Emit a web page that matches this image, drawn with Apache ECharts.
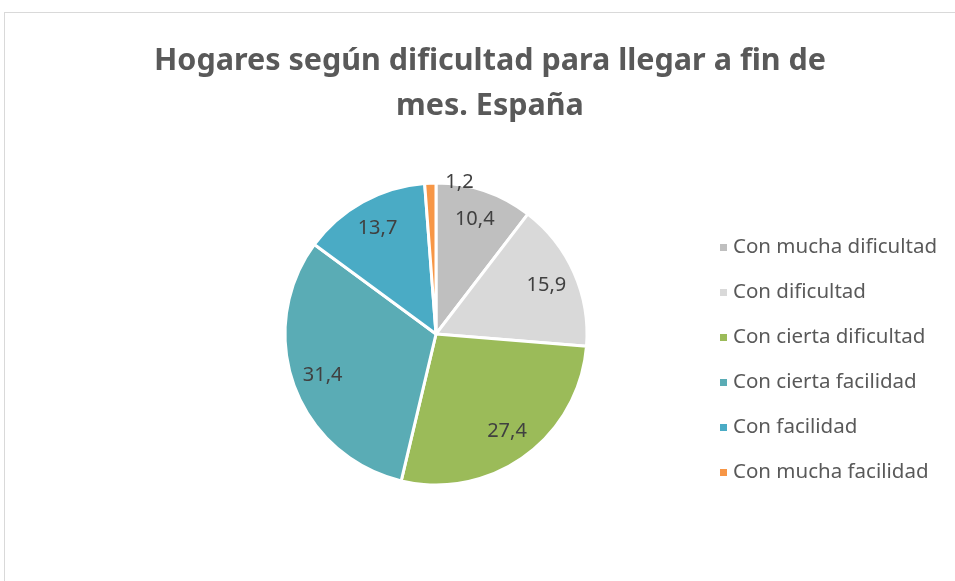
<!DOCTYPE html>
<html><head><meta charset="utf-8">
<script src="https://cdn.jsdelivr.net/npm/echarts@6/dist/echarts.min.js"></script>
<style>
html,body{margin:0;padding:0;background:#fff;overflow:hidden;}
#frame{position:absolute;left:4px;top:12px;width:1000px;height:620px;border:1px solid #d9d9d9;box-sizing:border-box;}
#chart{position:absolute;left:0;top:0;width:955px;height:581px;}
</style></head>
<body>
<div id="frame"></div>
<div id="chart"></div>
<script>
const titleText = 'Hogares según dificultad para llegar a fin de\nmes. España';
const categories = ['Con mucha dificultad','Con dificultad','Con cierta dificultad','Con cierta facilidad','Con facilidad','Con mucha facilidad'];
const values = [10.4, 15.9, 27.4, 31.4, 13.7, 1.2];
const colors = ['#bfbfbf','#d9d9d9','#9bbb59','#5aacb5','#4aabc5','#f79646'];

const R = 151;
const cx = 436, cy = 334;
const fmt = v => String(v).replace('.', ',');

const chart = echarts.init(document.getElementById('chart'), null, {renderer:'canvas'});
chart.setOption({
  animation:false,
  title:{text:titleText,left:485,top:34,textAlign:'center',
    textStyle:{fontFamily:'Noto Sans',fontWeight:'bold',fontSize:30.5,color:'#595959',lineHeight:45}},
  legend:{orient:'vertical',left:713,top:232,itemWidth:9,itemHeight:9,itemGap:24,icon:'rect',
    data:categories,
    textStyle:{fontFamily:'Noto Sans',fontSize:20.5,color:'#595959',lineHeight:20,padding:[0,0,0,0]}},
  series:[
    {type:'pie',name:'main',center:[cx,cy],radius:[0,R],startAngle:90,clockwise:true,
     label:{show:false},labelLine:{show:false},
     itemStyle:{borderColor:'#fff',borderWidth:3},
     emphasis:{disabled:true},
     data:categories.map((c,i)=>({name:c,value:values[i],itemStyle:{color:colors[i]}}))},
    {type:'pie',name:'labels',center:[cx,cy],radius:[0,R*1.56],startAngle:90,clockwise:true,silent:true,
     itemStyle:{color:'rgba(0,0,0,0)',borderWidth:0},
     labelLine:{show:false},
     label:{show:true,position:'inside',formatter:p=>fmt(p.value),
       fontFamily:'Noto Sans',fontSize:20,color:'#404040'},
     labelLayout:function(p){ if(p.dataIndex===5){ return {dx:28,dy:-31}; } return {}; },
     emphasis:{disabled:true},
     data:categories.map((c,i)=>({name:c,value:values[i]}))}
  ]
});
</script>
</body></html>
